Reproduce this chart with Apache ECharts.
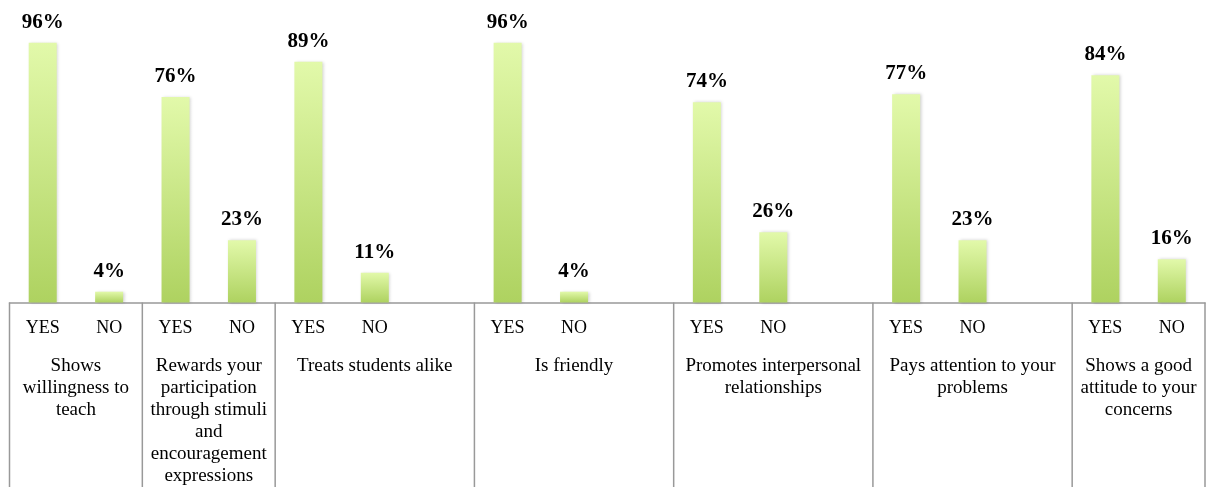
<!DOCTYPE html>
<html>
<head>
<meta charset="utf-8">
<script src="https://cdn.jsdelivr.net/npm/echarts@6/dist/echarts.min.js"></script>
<style>
  html, body { margin: 0; padding: 0; background: #fff; }
  #chart { width: 1206px; height: 487px; }
</style>
</head>
<body>
<div id="chart"></div>
<script>
// Survey answers per teacher attribute (percent of respondents)
const groupNames = [
  'Shows\nwillingness to\nteach',
  'Rewards your\nparticipation\nthrough stimuli\nand\nencouragement\nexpressions',
  'Treats students alike',
  'Is friendly',
  'Promotes interpersonal\nrelationships',
  'Pays attention to your\nproblems',
  'Shows a good\nattitude to your\nconcerns'
];
const answerLabels = ['YES', 'NO'];
const yesValues = [96, 76, 89, 96, 74, 77, 84];
const noValues  = [4, 23, 11, 4, 26, 23, 16];
// an empty slot follows some groups, widening their box
const spacerAfter = [false, false, true, true, true, true, false];

// Flatten into one category axis
const categories = [];
const values = [];
const groupRanges = [];
groupNames.forEach((name, g) => {
  const start = categories.length;
  categories.push(answerLabels[0]); values.push(yesValues[g]);
  categories.push(answerLabels[1]); values.push(noValues[g]);
  if (spacerAfter[g]) { categories.push(''); values.push(null); }
  groupRanges.push([start, categories.length - 1]);
});

const serif = '"Liberation Serif", "Times New Roman", serif';
const chart = echarts.init(document.getElementById('chart'));

const option = {
  animation: false,
  backgroundColor: '#fff',
  grid: { left: 9.5, right: 1, top: 32, bottom: 184.5, containLabel: false },
  xAxis: {
    type: 'category',
    data: categories,
    axisLine: { lineStyle: { color: '#999', width: 1.5 } },
    axisTick: { show: false },
    axisLabel: { interval: 0, margin: 17, fontSize: 18, fontFamily: serif, color: '#000' }
  },
  yAxis: { type: 'value', min: 0, max: 100, show: false },
  series: [{
    type: 'bar',
    data: values,
    barWidth: 28,
    itemStyle: {
      color: new echarts.graphic.LinearGradient(0, 0, 0, 1, [
        { offset: 0, color: '#e2f9aa' },
        { offset: 1, color: '#aed260' }
      ]),
      shadowColor: 'rgba(0,0,0,0.18)',
      shadowBlur: 3,
      shadowOffsetX: 1.5
    },
    label: {
      show: true,
      position: 'top',
      distance: 10,
      formatter: '{c}%',
      fontFamily: serif,
      fontWeight: 'bold',
      fontSize: 21,
      color: '#000'
    }
  }]
};
chart.setOption(option);

// Group boxes below the axis, with their captions
function drawGroups() {
  const c0 = chart.convertToPixel({ xAxisIndex: 0 }, 0);
  const c1 = chart.convertToPixel({ xAxisIndex: 0 }, 1);
  const band = c1 - c0;
  const axisY = chart.convertToPixel({ yAxisIndex: 0 }, 0);
  const bottom = 487;
  const elements = [];
  const edges = [c0 - band / 2];
  groupRanges.forEach(r => edges.push(chart.convertToPixel({ xAxisIndex: 0 }, r[1]) + band / 2));
  edges.forEach(x => {
    const xx = Math.min(Math.max(x, 1), 1205);
    elements.push({
      type: 'line',
      shape: { x1: xx, y1: axisY, x2: xx, y2: bottom },
      style: { stroke: '#999', lineWidth: 1.5 },
      silent: true
    });
  });
  groupNames.forEach((name, g) => {
    const left = edges[g], right = edges[g + 1];
    elements.push({
      type: 'text',
      x: (left + right) / 2,
      y: axisY + 53,
      style: {
        text: name,
        align: 'center',
        verticalAlign: 'top',
        fontFamily: serif,
        fontSize: 19,
        lineHeight: 22,
        fill: '#000'
      },
      silent: true
    });
  });
  chart.setOption({ graphic: { elements: elements } });
}
drawGroups();
</script>
</body>
</html>
